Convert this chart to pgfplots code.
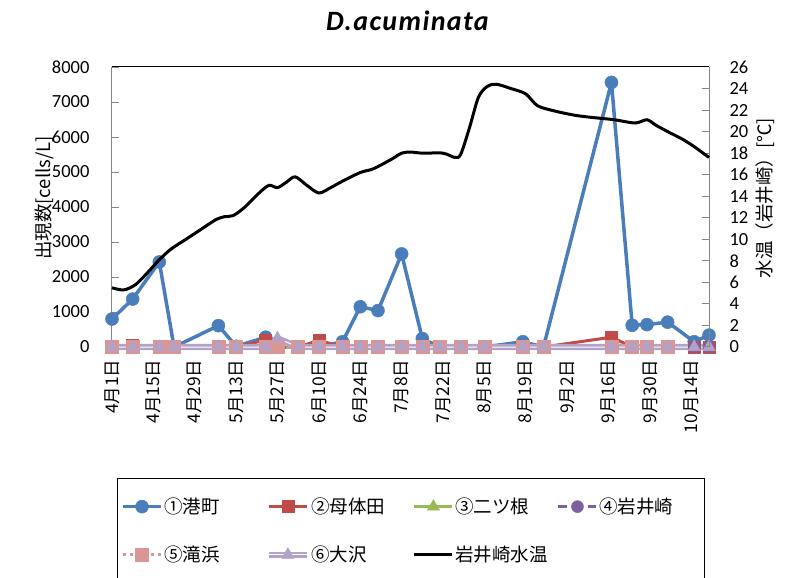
\documentclass[border=0pt]{standalone}
\usepackage{pgfplots}
\pgfplotsset{compat=1.18}
\usepackage{fontspec}
\setmainfont{Carlito}
\newfontfamily\jp{Noto Sans CJK JP}
\definecolor{cBlue}{HTML}{4A7EBB}
\definecolor{cRed}{HTML}{BE4B48}
\definecolor{cGreen}{HTML}{98B954}
\definecolor{cPurple}{HTML}{7D60A0}
\definecolor{cPink}{HTML}{D99694}
\definecolor{cLav}{HTML}{B3A2C7}
\definecolor{axgray}{HTML}{868686}
\newcommand{\md}[2]{{\jp #1月#2日}}
\newcommand{\fs}{\fontsize{18.5}{21}\selectfont}
\begin{document}
\begin{tikzpicture}
\begin{axis}[
  scale only axis, width=597pt, height=280pt,
  xmin=0, xmax=202, ymin=0, ymax=8000,
  axis x line*=bottom, axis y line*=left,
  axis line style={axgray, line width=1pt},
  xtick={0,14,...,196},
  xticklabels={\md{4}{1},\md{4}{15},\md{4}{29},\md{5}{13},\md{5}{27},\md{6}{10},\md{6}{24},\md{7}{8},\md{7}{22},\md{8}{5},\md{8}{19},\md{9}{2},\md{9}{16},\md{9}{30},\md{10}{14}},
  xticklabel style={rotate=90, anchor=east, font=\fontsize{17.5}{20}\selectfont},
  xticklabel shift=9pt,
  xtick style={draw=none},
  ytick={0,1000,...,8000},
  yticklabel style={font=\fs},
  yticklabel shift=19pt,
  ytick style={axgray, line width=1pt},
  tick align=inside, major tick length=7pt,
  /pgf/number format/assume math mode=true,
  /pgf/number format/1000 sep={},
  ylabel={\jp 出現数[cells/L]},
  ylabel style={at={(axis description cs:-0.114,0.532)}, anchor=center, font=\fs},
  title={\textbf{\textit{D.acuminata}}},
  title style={at={(axis description cs:0.496,1.142)}, anchor=center, font=\fontsize{28}{32}\selectfont\addfontfeature{LetterSpace=5}},
  clip=false,
  legend columns=4,
  legend cell align=left,
  legend style={at={(axis description cs:0.008,-0.468)}, anchor=north west, draw=black, line width=1pt, font=\fs, row sep=28pt, inner xsep=4pt, inner ysep=18pt, nodes={inner sep=1.5pt}},
  legend image code/.code={\draw[mark repeat=2,mark phase=2,#1] plot coordinates {(0pt,0pt) (19pt,0pt) (38pt,0pt)};},
]
\addplot[cBlue, line width=3.5pt, line join=round, mark=*, mark size=6.5pt, mark options={solid, fill=cBlue, draw=cBlue, line width=0.5pt}] coordinates {
(0,800)(7,1370)(16,2430)(21,0)(36,610)(42,20)(52,280)(63,0)(70,0)(78,150)(84,1150)(90,1040)(98,2660)(105,240)(111,0)(118,0)(126,0)(139,150)(146,0)(169,7560)(176,620)(181,640)(188,710)(197,150)(202,340)};
\addlegendentry{\makebox[100pt][l]{\jp ①港町}}
\addplot[cRed, line width=3pt, line join=round, mark=square*, mark size=6pt, mark options={solid, fill=cRed, draw=cRed, line width=0.5pt}] coordinates {
(0,0)(7,50)(16,0)(21,0)(36,0)(42,0)(52,200)(56,0)(63,0)(70,190)(78,0)(84,0)(90,0)(98,0)(105,0)(111,0)(118,0)(126,0)(139,0)(146,0)(169,280)(176,0)(181,0)(188,0)(197,0)(202,0)};
\addlegendentry{\makebox[100pt][l]{\jp ②母体田}}
\addplot[cGreen, line width=3pt, mark=triangle*, mark size=7pt, mark options={solid, fill=cGreen, draw=cGreen, line width=0.5pt}] coordinates {
(0,0)(7,0)(16,0)(21,0)(36,0)(42,0)(52,0)(56,0)(63,0)(70,0)(78,0)(84,0)(90,0)(98,0)(105,0)(111,0)(118,0)(126,0)(139,0)(146,0)(169,0)(176,0)(181,0)(188,0)(197,0)(202,0)};
\addlegendentry{\makebox[100pt][l]{\jp ③二ツ根}}
\addplot[cPurple, line width=3pt, dash pattern=on 9pt off 6pt, mark=*, mark size=6pt, mark options={solid, fill=cPurple, draw=cPurple, line width=0.5pt}] coordinates {
(0,0)(7,0)(16,0)(21,0)(36,0)(42,0)(52,0)(56,0)(63,0)(70,0)(78,0)(84,0)(90,0)(98,0)(105,0)(111,0)(118,0)(126,0)(139,0)(146,0)(169,0)(176,0)(181,0)(188,0)(197,0)(202,0)};
\addlegendentry{\makebox[100pt][l]{\jp ④岩井崎}}
\addplot[cPink, line width=3pt, dash pattern=on 2.5pt off 4.5pt, mark=square*, mark size=6.5pt, mark options={solid, fill=cPink, draw=cPink, line width=0.5pt}] coordinates {
(0,0)(7,0)(16,0)(21,0)(36,0)(42,0)(52,0)(56,0)(63,0)(70,0)(78,0)(84,0)(90,0)(98,0)(105,0)(111,0)(118,0)(126,0)(139,0)(146,0)(169,0)(176,0)(181,0)(188,0)};
\addlegendentry{\makebox[100pt][l]{\jp ⑤滝浜}}
\addplot[cLav, line width=2.6pt, double=white, double distance=1pt, mark=triangle*, mark size=7pt, mark options={solid, fill=cLav, draw=cLav, line width=0.5pt, double=none}] coordinates {
(0,0)(7,0)(16,0)(21,0)(36,0)(42,0)(52,0)(56,250)(63,0)(70,0)(78,0)(84,0)(90,0)(98,0)(105,0)(111,0)(118,0)(126,0)(139,0)(146,0)(169,0)(176,0)(181,0)(188,0)(197,0)(202,0)};
\addlegendentry{\makebox[100pt][l]{\jp ⑥大沢}}
\addlegendimage{black, line width=3pt}
\addlegendentry{\makebox[100pt][l]{\jp 岩井崎水温}}
\end{axis}
\begin{axis}[
  scale only axis, width=597pt, height=280pt,
  xmin=0, xmax=202, ymin=0, ymax=26,
  axis y line*=right, axis x line=none,
  axis line style={axgray, line width=1pt},
  ytick={0,2,...,26},
  yticklabel style={font=\fs},
  yticklabel shift=17pt,
  ytick style={axgray, line width=1pt},
  tick align=inside, major tick length=7pt,
  /pgf/number format/assume math mode=true,
  ylabel={\jp 水温（岩井崎）[℃]},
  ylabel style={at={(axis description cs:1.094,0.532)}, anchor=center, rotate=0, font=\fs},
  clip=false,
]
\draw[black, line width=1pt] (rel axis cs:0,1) -- (rel axis cs:1,1);
\addplot[black, line width=3pt, smooth, tension=0.5, no marks] coordinates {
(0,5.5)(4,5.3)(8,5.8)(12,6.9)(16,8.1)(20,9.1)(25,10.0)(30,10.9)(35,11.8)(38,12.1)(41,12.2)(45,13.0)(49,14.1)(53,15.0)(56,14.8)(59,15.3)(62,15.8)(66,15.0)(70,14.3)(74,14.8)(78,15.4)(84,16.2)(88,16.5)(91,16.9)(95,17.5)(98,18.0)(101,18.1)(105,18.0)(112,18.0)(116,17.6)(118,17.9)(121,20.4)(124,23.2)(127,24.2)(130,24.4)(135,24.0)(140,23.5)(144,22.4)(150,21.9)(157,21.5)(163,21.3)(170,21.1)(177,20.8)(181,21.1)(184,20.6)(188,20.0)(193,19.3)(197,18.6)(202,17.6)};
\end{axis}
\pgfresetboundingbox
\path (-112pt,-231pt) rectangle (678pt,347pt);
\end{tikzpicture}
\end{document}
